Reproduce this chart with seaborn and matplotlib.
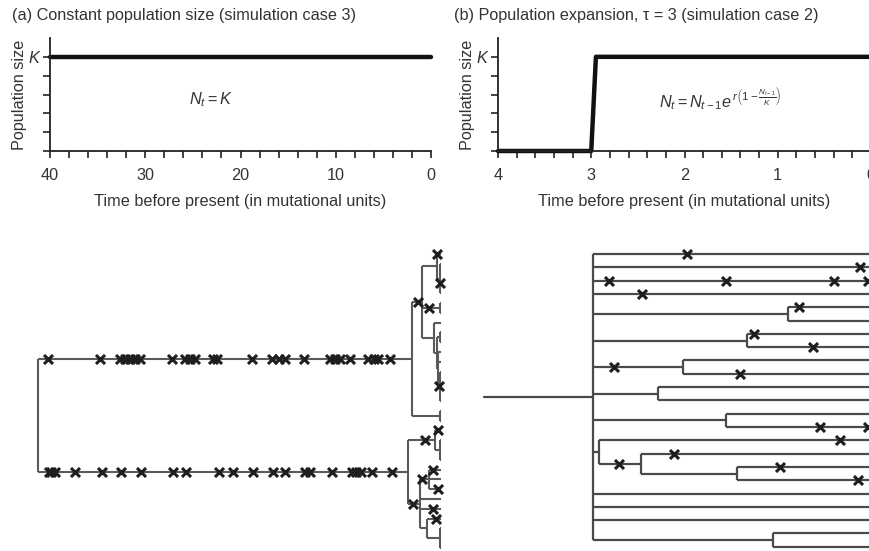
import matplotlib
matplotlib.use("Agg")
import matplotlib.pyplot as plt
import seaborn as sns
import pandas as pd

# population size curves (time before present, size in units of K/5)
const_time = [40, 0]
const_size = [5, 5]
exp_time = [4, 3, 2.95, 0]
exp_size = [0, 0, 5, 5]

# left genealogy (constant size): node ages, tips are age 0
left_children = {
    'root': ['A', 'L'],
    'A': ['B', 'I'],
    'B': ['C', 'X', 'E'],
    'C': ['u0', 'D'],
    'D': ['u1', 'u2', 'u3', 'u4'],
    'X': ['u5', 'u6'],
    'E': ['u7', 'F'],
    'F': ['G', 'H'],
    'G': ['u8', 'u9'],
    'H': ['u10', 'u11', 'K'],
    'K': ['u12', 'u13', 'u14', 'u15'],
    'I': ['u16', 'u17'],
    'L': ['M', 'N'],
    'M': ['l18', 'Mc'],
    'Mc': ['l19', 'l20', 'l21'],
    'N': ['O', 'l25', 'l26', 'P'],
    'O': ['l22', 'l23', 'l24'],
    'P': ['l27', 'Pc'],
    'Pc': ['l28', 'l29', 'l30'],
}
left_age = {'root': 42.4, 'A': 3.0, 'B': 2.03, 'C': 0.45, 'D': 0.1, 'X': 0.05,
            'E': 0.7, 'F': 0.45, 'G': 0.15, 'H': 0.3, 'K': 0.1, 'I': 0.1,
            'L': 3.44, 'M': 0.63, 'Mc': 0.1, 'N': 2.2, 'O': 1.3, 'P': 1.5, 'Pc': 0.1}
left_mut_A = [41.4, 35.9, 33.8, 33.3, 32.7, 32.2, 31.7, 28.3, 26.9, 26.4, 25.9,
              24.0, 23.6, 19.9, 17.8, 17.1, 16.4, 14.4, 11.7, 11.2, 10.6, 9.6,
              7.7, 7.1, 6.6, 5.4]
left_mut_L = [41.3, 41.0, 40.6, 38.5, 35.7, 33.7, 31.6, 28.2, 26.8, 23.4, 21.9,
              19.8, 17.7, 16.4, 14.3, 13.8, 11.5, 9.4, 8.9, 8.4, 7.3, 5.2]
left_mut_other = [('B', 2.4), ('u0', 0.4), ('u3', 0.05), ('X', 1.3), ('K', 0.25),
                  ('M', 1.7), ('l18', 0.3), ('O', 2.0), ('l22', 0.87), ('l24', 0.28),
                  ('N', 2.9), ('l26', 0.87), ('l27', 0.53)]

# right genealogy (expansion), ages in mutational units
right_children = {
    'root': ['t1', 't2', 't3', 't4', 'n5', 'n7', 'n9', 'n11', 'n13', 'n15',
             't19', 't20', 't21', 'n22'],
    'n5': ['t5', 't6'],
    'n7': ['t7', 't8'],
    'n9': ['t9', 't10'],
    'n11': ['t11', 't12'],
    'n13': ['t13', 't14'],
    'n15': ['t15', 'n16'],
    'n16': ['t16', 'n17'],
    'n17': ['t17', 't18'],
    'n22': ['t22', 't23'],
}
right_age = {'root': 2.98, 'n5': 0.89, 'n7': 1.33, 'n9': 2.02, 'n11': 2.28,
             'n13': 1.55, 'n15': 2.92, 'n16': 2.47, 'n17': 1.44, 'n22': 1.05}
right_stem = 4.15
right_mut = [('t1', 1.97), ('t2', 0.12), ('t3', 2.81), ('t3', 1.55), ('t3', 0.40),
             ('t3', 0.03), ('t4', 2.46), ('t5', 0.77), ('t7', 1.26), ('t8', 0.62),
             ('n9', 2.76), ('t10', 1.40), ('t14', 0.55), ('t14', 0.03), ('t15', 0.33),
             ('n16', 2.70), ('t16', 2.11), ('t17', 0.98), ('t18', 0.14)]

sns.set_theme(style='ticks')
plt.rcParams['font.family'] = ['Liberation Sans', 'DejaVu Sans']
plt.rcParams['mathtext.fontset'] = 'custom'
plt.rcParams['mathtext.rm'] = 'Liberation Sans'
plt.rcParams['mathtext.it'] = 'Liberation Sans:italic'
TXT = '#333333'
FS = 11.7


def tip_layout(children, root):
    ypos = {}
    count = [0]

    def visit(n):
        kids = children.get(n, [])
        if not kids:
            ypos[n] = count[0]
            count[0] += 1
        else:
            for k in kids:
                visit(k)
            ypos[n] = (ypos[kids[0]] + ypos[kids[-1]]) / 2
    visit(root)
    return ypos


def draw_tree(ax, children, age, color, lw, stem=None):
    ypos = tip_layout(children, 'root')
    for n, kids in children.items():
        a = age[n]
        ax.plot([a, a], [ypos[kids[0]], ypos[kids[-1]]], color=color, lw=lw,
                solid_capstyle='butt', clip_on=False)
        for k in kids:
            ax.plot([a, age.get(k, 0)], [ypos[k], ypos[k]], color=color, lw=lw,
                    solid_capstyle='butt', clip_on=False)
    if stem is not None:
        ax.plot([stem, age['root']], [ypos['root']] * 2, color=color, lw=lw, clip_on=False)
    return ypos


def draw_muts(ax, ypos, branches, ages):
    df = pd.DataFrame({'age': ages, 'y': [ypos[b] for b in branches]})
    sns.scatterplot(data=df, x='age', y='y', marker='x', s=42, linewidth=2.2,
                    color='#1e1e1e', ax=ax, clip_on=False, zorder=5)


def pop_axes(ax, times, sizes, xmax, major, minor, labels):
    df = pd.DataFrame({'time': times, 'size': sizes})
    sns.lineplot(data=df, x='time', y='size', color='#111111', lw=3.2, ax=ax,
                 clip_on=False, estimator=None)
    ax.set_xlim(xmax, 0)
    ax.set_ylim(0, 6)
    ax.set_xticks(major)
    ax.set_xticklabels(labels)
    ax.set_xticks(minor, minor=True)
    ax.set_yticks(range(6))
    ax.set_yticklabels([''] * 5 + ['K'])
    ax.get_yticklabels()[-1].set_fontstyle('italic')
    for s in ['top', 'right']:
        ax.spines[s].set_visible(False)
    for s in ['left', 'bottom']:
        ax.spines[s].set_color('#222222')
        ax.spines[s].set_linewidth(1.3)
    ax.tick_params(which='both', direction='out', length=5, width=1.2,
                   color='#222222', labelsize=FS, labelcolor=TXT, pad=3)
    ax.tick_params(axis='x', which='both', pad=7)
    ax.set_xlabel('Time before present (in mutational units)', fontsize=FS,
                  color=TXT, labelpad=8)
    ax.set_ylabel('Population size', fontsize=FS, color=TXT, labelpad=1)


fig = plt.figure(figsize=(8.69, 5.51), dpi=100)

ax1 = fig.add_axes([50 / 869, 400 / 551, 381 / 869, 113 / 551])
pop_axes(ax1, const_time, const_size, 40, [40, 30, 20, 10, 0],
         list(range(0, 41, 2)), ['40', '30', '20', '10', '0'])
ax1.text(23.1, 2.7, '$N_t = K$', fontsize=FS, color=TXT, ha='center', va='center')

ax2 = fig.add_axes([498 / 869, 400 / 551, 373 / 869, 113 / 551])
pop_axes(ax2, exp_time, exp_size, 4, [4, 3, 2, 1, 0],
         [i / 5 for i in range(21)], ['4', '3', '2', '1', '0'])
ax2.text(1.62, 2.7, r'$N_t = N_{t-1}e^{\,r\left(1-\frac{N_{t-1}}{K}\right)}$', fontsize=FS,
         color=TXT, ha='center', va='center')

fig.text(12 / 869, 1 - 20 / 551, '(a) Constant population size (simulation case 3)',
         fontsize=FS, color=TXT, va='baseline')
fig.text(454 / 869, 1 - 20 / 551, '(b) Population expansion, \u03c4 = 3 (simulation case 2)',
         fontsize=FS, color=TXT, va='baseline')

ax3 = fig.add_axes([30 / 869, 0, 420 / 869, 306 / 551])
yl = draw_tree(ax3, left_children, left_age, '#5a5a5a', 1.5)
draw_muts(ax3, yl, ['A'] * len(left_mut_A) + ['L'] * len(left_mut_L)
          + [b for b, _ in left_mut_other],
          left_mut_A + left_mut_L + [a for _, a in left_mut_other])
ax3.set_xlim(43.26, -0.95)
ax3.set_ylim(30.31, -0.92)
ax3.axis('off')

ax4 = fig.add_axes([498 / 869, 0, 373 / 869, 306 / 551])
yr = draw_tree(ax4, right_children, right_age, '#4a4a4a', 1.6, stem=right_stem)
draw_muts(ax4, yr, [b for b, _ in right_mut], [a for _, a in right_mut])
ax4.set_xlim(4, 0)
ax4.set_ylim(22.32, -0.68)
ax4.axis('off')

fig.savefig('out.png', dpi=100)
